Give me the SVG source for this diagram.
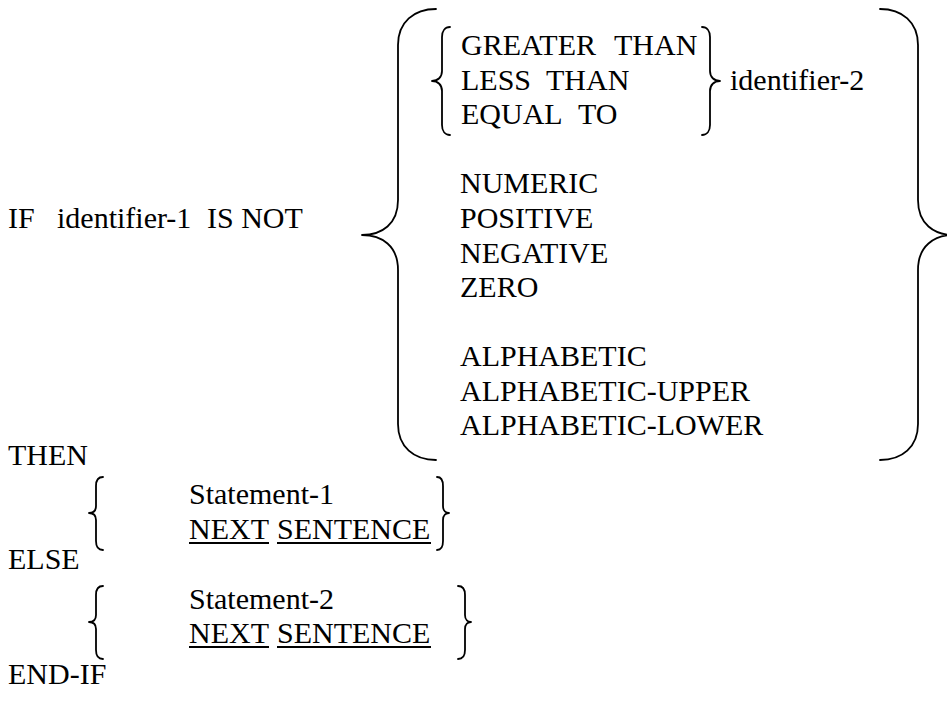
<svg xmlns="http://www.w3.org/2000/svg" width="947" height="715" viewBox="0 0 947 715">
<style>
.br{fill:none;stroke:#000;stroke-width:1.8;stroke-linecap:round;stroke-linejoin:round}
.ul{stroke:#000;stroke-width:2}
</style>
<rect width="947" height="715" fill="#fff"/>
<g font-size="30" fill="#000">
<g id="condition">
<text x="8" y="228" font-family="Nimbus Roman">IF</text>
<text x="57" y="228" font-family="Nimbus Roman">identifier-1</text>
<text x="207" y="228" font-family="Nimbus Roman">IS NOT</text>
</g>
<g id="comparisons">
<text x="461" y="55" font-family="Nimbus Roman">GREATER</text>
<text x="614" y="55" font-family="Nimbus Roman">THAN</text>
<text x="461" y="89.5" font-family="Nimbus Roman">LESS</text>
<text x="546" y="89.5" font-family="Nimbus Roman">THAN</text>
<text x="461" y="124" font-family="Nimbus Roman">EQUAL</text>
<text x="578" y="124" font-family="Nimbus Roman">TO</text>
<text x="730" y="89.5" font-family="Nimbus Roman">identifier-2</text>
</g>
<g id="classes">
<text x="460" y="193" font-family="Nimbus Roman">NUMERIC</text>
<text x="460" y="228" font-family="Nimbus Roman">POSITIVE</text>
<text x="460" y="262.5" font-family="Nimbus Roman">NEGATIVE</text>
<text x="460" y="297" font-family="Nimbus Roman">ZERO</text>
<text x="460" y="366" font-family="Nimbus Roman">ALPHABETIC</text>
<text x="460" y="400.5" font-family="Nimbus Roman">ALPHABETIC-UPPER</text>
<text x="460" y="435" font-family="Nimbus Roman">ALPHABETIC-LOWER</text>
</g>
<g id="then-block">
<text x="8" y="465" font-family="Nimbus Roman">THEN</text>
<text x="189" y="504" font-family="Nimbus Roman">Statement-1</text>
<text x="189" y="539" font-family="Nimbus Roman">NEXT</text>
<text x="277" y="539" font-family="Nimbus Roman">SENTENCE</text>
</g>
<g id="else-block">
<text x="8" y="569" font-family="Nimbus Roman">ELSE</text>
<text x="189" y="609" font-family="Nimbus Roman">Statement-2</text>
<text x="189" y="643" font-family="Nimbus Roman">NEXT</text>
<text x="277" y="643" font-family="Nimbus Roman">SENTENCE</text>
</g>
<g id="end">
<text x="8" y="684" font-family="Nimbus Roman">END-IF</text>
</g>
</g>
<g id="underlines">
<line class="ul" x1="189" y1="543" x2="269" y2="543"/>
<line class="ul" x1="277" y1="543" x2="431" y2="543"/>
<line class="ul" x1="189" y1="647" x2="269" y2="647"/>
<line class="ul" x1="277" y1="647" x2="431" y2="647"/>
</g>
<g id="braces">
<path class="br" d="M436,9 C414,9 398,22 398,45 L398,200 C398,224 382,235 362,235 C382,235 398,246 398,270 L398,424 C398,447 414,460 436,460"/>
<path class="br" d="M880,9 C902,9 918,22 918,45 L918,200 C918,224 934,235 954,235 C934,235 918,246 918,270 L918,424 C918,447 902,460 880,460"/>
<path class="br" d="M450,27 C445,27 442,31 442,37 L442,71 C442,77 438,81 432,81 C438,81 442,85 442,91 L442,125 C442,131 445,135 450,135"/>
<path class="br" d="M702,27 C707,27 710,31 710,37 L710,71 C710,77 714,81 720,81 C714,81 710,85 710,91 L710,125 C710,131 707,135 702,135"/>
<path class="br" d="M103,477 C99,477 96,480 96,486 L96,506 C96,511 93,513 89,513 C93,513 96,515 96,520 L96,541 C96,547 99,550 103,550"/>
<path class="br" d="M437,477 C441,477 443,480 443,486 L443,506 C443,511 446,513 449,513 C446,513 443,515 443,520 L443,541 C443,547 441,550 437,550"/>
<path class="br" d="M103,586 C99,586 96,589 96,595 L96,615 C96,620 93,622 89,622 C93,622 96,624 96,629 L96,650 C96,656 99,659 103,659"/>
<path class="br" d="M458,586 C462,586 465,589 465,595 L465,615 C465,620 468,622 471,622 C468,622 465,624 465,629 L465,650 C465,656 462,659 458,659"/>
</g>
</svg>
